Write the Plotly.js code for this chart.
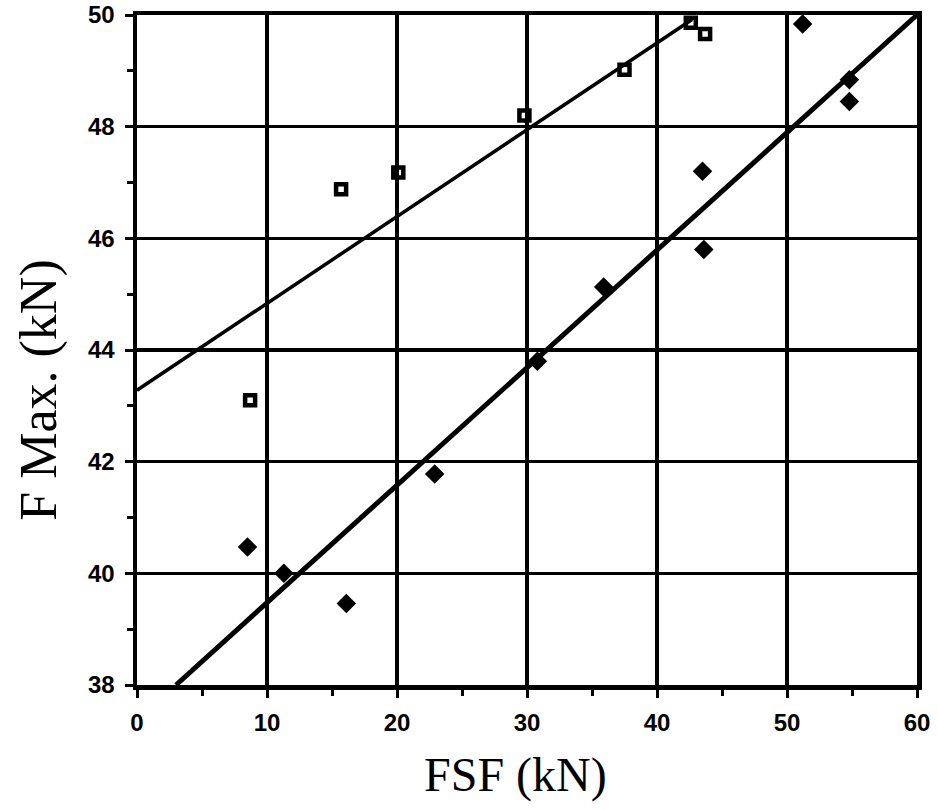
<!DOCTYPE html>
<html>
<head>
<meta charset="utf-8">
<script src="https://cdn.plot.ly/plotly-3.0.1.min.js"></script>
<style>html,body{margin:0;padding:0;background:#fff;}#chart{width:938px;height:810px;}</style>
</head>
<body>
<div id="chart"></div>
<script>
// Open squares series
const squareX = [8.7, 15.7, 20.1, 29.8, 37.5, 42.6, 43.7];
const squareY = [43.1, 46.88, 47.18, 48.2, 49.02, 49.86, 49.66];
// Filled diamonds series
const diamondX = [8.5, 11.3, 16.1, 22.9, 30.8, 35.9, 43.5, 43.6, 51.2, 54.8, 54.8];
const diamondY = [40.47, 40.0, 39.46, 41.78, 43.8, 45.13, 47.2, 45.8, 49.84, 48.84, 48.45];
// Fitted lines (endpoints)
const fitSquareX = [0, 42.7];
const fitSquareY = [43.28, 49.92];
const fitDiamondX = [3, 60];
const fitDiamondY = [38.0, 50.0];
// Axis ticks
const xTicks = [0, 10, 20, 30, 40, 50, 60];
const yTicks = [38, 40, 42, 44, 46, 48, 50];

const traces = [
  {x: fitSquareX, y: fitSquareY, mode: 'lines', line: {color: '#000', width: 3.5}, hoverinfo: 'skip', cliponaxis: false},
  {x: fitDiamondX, y: fitDiamondY, mode: 'lines', line: {color: '#000', width: 5}, hoverinfo: 'skip', cliponaxis: false},
  {x: squareX, y: squareY, mode: 'markers', marker: {symbol: 'square-open', size: 10, color: '#000', line: {width: 4.5, color: '#000'}}, cliponaxis: false},
  {x: diamondX, y: diamondY, mode: 'markers', marker: {symbol: 'diamond', size: 15, color: '#000'}, cliponaxis: false}
];

const titleFont = {family: 'Liberation Serif, Times New Roman, serif', size: 48, color: '#000'};

const layout = {
  width: 938, height: 810,
  margin: {l: 137, r: 21, t: 15, b: 125},
  paper_bgcolor: '#fff', plot_bgcolor: '#fff',
  showlegend: false,
  font: {family: 'Liberation Sans, Arial, sans-serif', size: 22, color: '#000'},
  xaxis: {
    range: [0, 60], tickmode: 'array', tickvals: xTicks, ticktext: xTicks.map(v => '<b>' + v + '</b>'),
    showgrid: true, gridcolor: '#000', gridwidth: 3.5,
    showline: true, linecolor: '#000', linewidth: 4.5, mirror: true,
    ticks: 'outside', ticklen: 8, tickwidth: 3, tickcolor: '#000',
    minor: {dtick: 5, tick0: 0, ticks: 'outside', ticklen: 6, tickwidth: 3, tickcolor: '#000', showgrid: false},
    zeroline: false, ticklabelstandoff: 5,
    tickfont: {family: 'Liberation Sans, Arial, sans-serif', size: 24, color: '#000'}
  },
  yaxis: {
    range: [38, 50], tickmode: 'array', tickvals: yTicks, ticktext: yTicks.map(v => '<b>' + v + '</b>'),
    showgrid: true, gridcolor: '#000', gridwidth: 3.5,
    showline: true, linecolor: '#000', linewidth: 4.5, mirror: true,
    ticks: 'outside', ticklen: 8, tickwidth: 3, tickcolor: '#000',
    minor: {dtick: 1, tick0: 38, ticks: 'outside', ticklen: 6, tickwidth: 3, tickcolor: '#000', showgrid: false},
    zeroline: false, ticklabelstandoff: 5,
    tickfont: {family: 'Liberation Sans, Arial, sans-serif', size: 24, color: '#000'}
  },
  annotations: [{
    text: 'F Max. (kN)', textangle: -90, showarrow: false,
    xref: 'paper', yref: 'paper', x: -0.125, y: 0.44, xanchor: 'center', yanchor: 'middle',
    font: {family: 'Liberation Serif, Times New Roman, serif', size: 52, color: '#000'}
  }, {
    text: 'FSF (kN)', showarrow: false,
    xref: 'paper', yref: 'paper', x: 0.485, y: -0.135, xanchor: 'center', yanchor: 'middle',
    font: titleFont
  }]
};

Plotly.newPlot('chart', traces, layout, {staticPlot: true, displayModeBar: false});
</script>
</body>
</html>
